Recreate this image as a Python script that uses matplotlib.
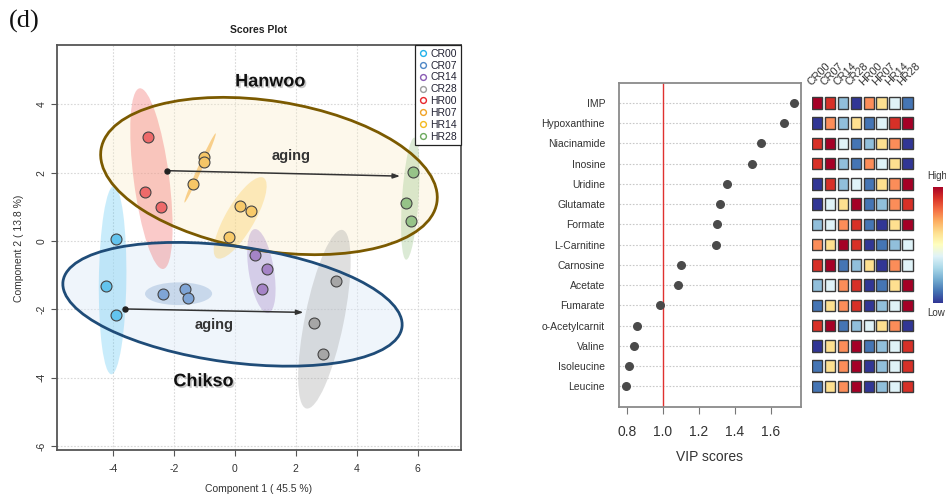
import numpy as np
import matplotlib
matplotlib.use("Agg")
import matplotlib.pyplot as plt
from matplotlib.patches import Ellipse, Rectangle
from matplotlib.lines import Line2D
import matplotlib.patheffects as pe

plt.rcParams['font.family'] = ['Liberation Sans', 'DejaVu Sans']
plt.rcParams['axes.unicode_minus'] = False

# ---------------- data ----------------
groups = ['CR00', 'CR07', 'CR14', 'CR28', 'HR00', 'HR07', 'HR14', 'HR28']

cr00_x = [-3.91, -4.22, -3.89]
cr00_y = [0.06, -1.33, -2.17]
cr07_x = [-2.36, -1.63, -1.54]
cr07_y = [-1.56, -1.40, -1.67]
cr14_x = [0.68, 1.06, 0.88]
cr14_y = [-0.41, -0.82, -1.41]
cr28_x = [3.31, 2.61, 2.90]
cr28_y = [-1.17, -2.40, -3.30]
hr00_x = [-2.85, -2.94, -2.41]
hr00_y = [3.05, 1.43, 1.00]
hr07_x = [-1.01, -1.02, -1.38]
hr07_y = [2.45, 2.30, 1.67]
hr14_x = [0.18, 0.53, -0.18]
hr14_y = [1.03, 0.88, 0.12]
hr28_x = [5.86, 5.62, 5.79]
hr28_y = [2.03, 1.10, 0.59]

comp1_label = "Component 1 ( 45.5 %)"
comp2_label = "Component 2 ( 13.8 %)"

metabolites = ['IMP', 'Hypoxanthine', 'Niacinamide', 'Inosine', 'Uridine',
               'Glutamate', 'Formate', 'L-Carnitine', 'Carnosine', 'Acetate',
               'Fumarate', 'o-Acetylcarnit', 'Valine', 'Isoleucine', 'Leucine']
vip_scores = [1.73, 1.67, 1.545, 1.495, 1.355, 1.317, 1.30, 1.294,
              1.10, 1.083, 0.983, 0.855, 0.838, 0.812, 0.797]

# relative level rank (1 = lowest, 8 = highest) per metabolite across groups
relative_levels = [
    [8, 7, 3, 1, 6, 5, 4, 2],
    [1, 6, 3, 5, 2, 4, 7, 8],
    [7, 8, 4, 2, 3, 5, 6, 1],
    [7, 8, 3, 2, 6, 4, 5, 1],
    [1, 7, 3, 4, 2, 5, 6, 8],
    [1, 4, 5, 8, 2, 3, 6, 7],
    [3, 4, 6, 7, 2, 1, 5, 8],
    [6, 5, 8, 7, 1, 2, 3, 4],
    [7, 8, 2, 3, 5, 1, 6, 4],
    [3, 4, 6, 7, 1, 2, 5, 8],
    [2, 5, 6, 7, 1, 3, 4, 8],
    [7, 8, 2, 3, 4, 5, 6, 1],
    [1, 5, 6, 8, 2, 3, 4, 7],
    [2, 5, 6, 8, 1, 3, 4, 7],
    [2, 5, 6, 8, 1, 3, 4, 7],
]

# ---------------- styles ----------------
legend_color = {'CR00': '#22B2EA', 'CR07': '#4F88C6', 'CR14': '#8A5CB4', 'CR28': '#9C9C9C',
                'HR00': '#E8262C', 'HR07': '#F0A326', 'HR14': '#F4BA20', 'HR28': '#6DAA5E'}
point_fill = {'CR00': '#63C4EE', 'CR07': '#7FA5D6', 'CR14': '#A584C6', 'CR28': '#A6A6A6',
              'HR00': '#EE6A6A', 'HR07': '#F6C667', 'HR14': '#F8CA6A', 'HR28': '#96C388'}
ell_color = {'CR00': ('#4FC3F2', 0.30), 'CR07': ('#7A9FCC', 0.33), 'CR14': ('#A686C8', 0.36),
             'CR28': ('#A8A8A8', 0.36), 'HR00': ('#F26D6B', 0.36), 'HR07': ('#F5AE3A', 0.55),
             'HR14': ('#FBD06A', 0.40), 'HR28': ('#9DC78C', 0.36)}
heat_colors = ['#313695', '#4575B4', '#91BFDB', '#E0F3F8',
               '#FEE090', '#FC8D59', '#D73027', '#A50026']

W, H = 946, 498
fig = plt.figure(figsize=(W / 100, H / 100), dpi=100)


def px_axes(left, top, right, bottom):
    return fig.add_axes([left / W, 1 - bottom / H, (right - left) / W, (bottom - top) / H])


def fig_xy(x, y):
    return x / W, 1 - y / H


# ---------------- scores plot ----------------
ax = px_axes(56.7, 45, 461, 450)
ax.set_xlim(-5.84, 7.42)
ax.set_ylim(-6.12, 5.74)
ax.set_xticks([-4, -2, 0, 2, 4, 6])
ax.set_yticks([-6, -4, -2, 0, 2, 4])
ax.grid(True, color='#D8D8D8', linestyle=(0, (1.5, 1.5)), linewidth=0.8)
ax.set_axisbelow(True)
for s in ax.spines.values():
    s.set_color('#555555')
    s.set_linewidth(1.3)
ax.tick_params(axis='both', direction='out', length=4, width=0.8, color='#555555',
               labelsize=7.5, labelcolor='#333333')
ax.tick_params(axis='x', pad=6)
for lab in ax.get_yticklabels():
    lab.set_rotation(90)
    lab.set_va('center')

scores = {
    'CR00': (cr00_x, cr00_y), 'CR07': (cr07_x, cr07_y), 'CR14': (cr14_x, cr14_y),
    'CR28': (cr28_x, cr28_y), 'HR00': (hr00_x, hr00_y), 'HR07': (hr07_x, hr07_y),
    'HR14': (hr14_x, hr14_y), 'HR28': (hr28_x, hr28_y),
}

# breed outlines (drawn in axes fraction)
hanwoo = dict(center=(0.525, 0.6765), width=0.841, height=0.370, angle=-9.0)
chikso = dict(center=(0.4348, 0.3598), width=0.846, height=0.2864, angle=-7.7)
for spec, face, alpha, edge in [(hanwoo, '#FAEDC8', 0.35, '#7B5A00'),
                                (chikso, '#DDEAF8', 0.45, '#1F4C78')]:
    ax.add_patch(Ellipse(spec['center'], spec['width'], spec['height'], angle=spec['angle'],
                         transform=ax.transAxes, facecolor=face, edgecolor='none',
                         alpha=alpha, zorder=1))
    ax.add_patch(Ellipse(spec['center'], spec['width'], spec['height'], angle=spec['angle'],
                         transform=ax.transAxes, facecolor='none', edgecolor=edge,
                         linewidth=2.0, zorder=3))

# 95 % confidence ellipse for each group
chi = np.sqrt(5.991)
for g in groups:
    xs, ys = np.array(scores[g][0]), np.array(scores[g][1])
    cov = np.cov(xs, ys)
    vals, vecs = np.linalg.eigh(cov)
    order = vals.argsort()[::-1]
    vals, vecs = vals[order], vecs[:, order]
    ang = np.degrees(np.arctan2(vecs[1, 0], vecs[0, 0]))
    col, a = ell_color[g]
    ax.add_patch(Ellipse((xs.mean(), ys.mean()), 2 * chi * np.sqrt(max(vals[0], 0)),
                         2 * chi * np.sqrt(max(vals[1], 0)), angle=ang,
                         facecolor=col, edgecolor='none', alpha=a, zorder=2))

for g in groups:
    ax.scatter(scores[g][0], scores[g][1], s=62, facecolor=point_fill[g],
               edgecolor='#444444', linewidth=0.8, zorder=5)

# aging arrows
for (x0, y0), (x1, y1) in [((-2.23, 2.06), (5.42, 1.90)), ((-3.60, -1.99), (2.25, -2.09))]:
    ax.annotate('', xy=(x1, y1), xytext=(x0, y0),
                arrowprops=dict(arrowstyle='-|>,head_length=0.4,head_width=0.14',
                                color='#333333', lw=1.1, shrinkA=0, shrinkB=0), zorder=6)
    ax.plot([x0], [y0], 'o', ms=3.6, color='#222222', zorder=6)

shadow = [pe.SimplePatchShadow(offset=(1.2, -1.2), alpha=0.4, shadow_rgbFace='#777777'),
          pe.Normal()]
ax.text(1.16, 4.66, 'Hanwoo', fontsize=13, fontweight='bold', ha='center', va='center',
        color='#111111', path_effects=shadow, zorder=7)
ax.text(-1.03, -4.12, 'Chikso', fontsize=13, fontweight='bold', ha='center', va='center',
        color='#111111', path_effects=shadow, zorder=7)
ax.text(1.85, 2.50, 'aging', fontsize=10.5, fontweight='bold', ha='center', va='center',
        color='#333333', zorder=7)
ax.text(-0.67, -2.46, 'aging', fontsize=10.5, fontweight='bold', ha='center', va='center',
        color='#333333', zorder=7)

handles = [Line2D([], [], marker='o', linestyle='none', markersize=4.2,
                  markerfacecolor='none', markeredgecolor=legend_color[g],
                  markeredgewidth=1.0, label=g) for g in groups]
leg = ax.legend(handles=handles, loc='upper right', borderaxespad=0, fontsize=7.5,
                labelspacing=0.18, handletextpad=0.25, handlelength=0.9,
                borderpad=0.35, fancybox=False, framealpha=1, edgecolor='#222222',
                labelcolor='#222233')
leg.get_frame().set_linewidth(0.9)
leg.set_zorder(8)

fig.text(*fig_xy(259, 30), 'Scores Plot', fontsize=7.5, fontweight='bold',
         ha='center', va='center', color='#222222')
fig.text(*fig_xy(259, 489), comp1_label, fontsize=7.5, ha='center', va='center', color='#333333')
fig.text(*fig_xy(19, 248), comp2_label, fontsize=7.5, ha='center', va='center',
         rotation=90, color='#333333')
fig.text(*fig_xy(9, 21), '(d)', fontsize=19, ha='left', va='center',
         family=['Liberation Serif', 'DejaVu Serif'], color='#111111')

# ---------------- VIP scores ----------------
n = len(metabolites)
rows = np.arange(n, 0, -1)
vx = px_axes(619, 82.7, 801, 406.7)
vx.set_xlim(0.756, 1.767)
vx.set_ylim(0, n + 1)
for r in rows:
    vx.axhline(r, color='#C8C8C8', linestyle=(0, (1.5, 1.5)), linewidth=0.8, zorder=1)
vx.axvline(1.0, color='#E0312F', linewidth=1.0, zorder=2)
vx.scatter(vip_scores, rows, s=30, color='#4A4A4A', zorder=3)
vx.set_yticks(rows)
vx.set_yticklabels(metabolites)
vx.set_xticks([0.8, 1.0, 1.2, 1.4, 1.6])
vx.set_xticklabels(['0.8', '1.0', '1.2', '1.4', '1.6'])
vx.tick_params(axis='y', length=0, pad=10, labelsize=7.5, labelcolor='#333333')
vx.tick_params(axis='x', direction='out', length=5, width=0.8, color='#777777',
               labelsize=10, labelcolor='#333333', pad=8)
for s in vx.spines.values():
    s.set_color('#8A8A8A')
    s.set_linewidth(1.3)
fig.text(*fig_xy(710, 457), 'VIP scores', fontsize=10, ha='center', va='center', color='#333333')

# ---------------- heat map of relative levels ----------------
hx = px_axes(811.7, 82.7, 811.7 + 8 * 12.9, 406.7)
hx.set_xlim(0, 8)
hx.set_ylim(0, n + 1)
hx.axis('off')
for i, r in enumerate(rows):
    for c, lvl in enumerate(relative_levels[i]):
        hx.add_patch(Rectangle((c + 0.02, r - 0.285), 0.8, 0.57,
                               facecolor=heat_colors[lvl - 1], edgecolor='#3A3A3A',
                               linewidth=1.0))
for c, g in enumerate(groups):
    fig.text(*fig_xy(811.7 + c * 12.9 + 1, 87), g, fontsize=7.8, rotation=45,
             rotation_mode='anchor', ha='left', va='bottom', color='#333333')

cx = px_axes(933, 187, 943, 303)
grad = np.linspace(1, 0, 256).reshape(-1, 1)
cx.imshow(grad, aspect='auto', cmap='RdYlBu_r', extent=[0, 1, 0, 1])
cx.set_xticks([])
cx.set_yticks([])
for s in cx.spines.values():
    s.set_visible(False)
fig.text(*fig_xy(927, 176), 'High', fontsize=7, ha='left', va='center', color='#333333')
fig.text(*fig_xy(927, 313), 'Low', fontsize=7, ha='left', va='center', color='#333333')

fig.savefig('out.png', dpi=100)
